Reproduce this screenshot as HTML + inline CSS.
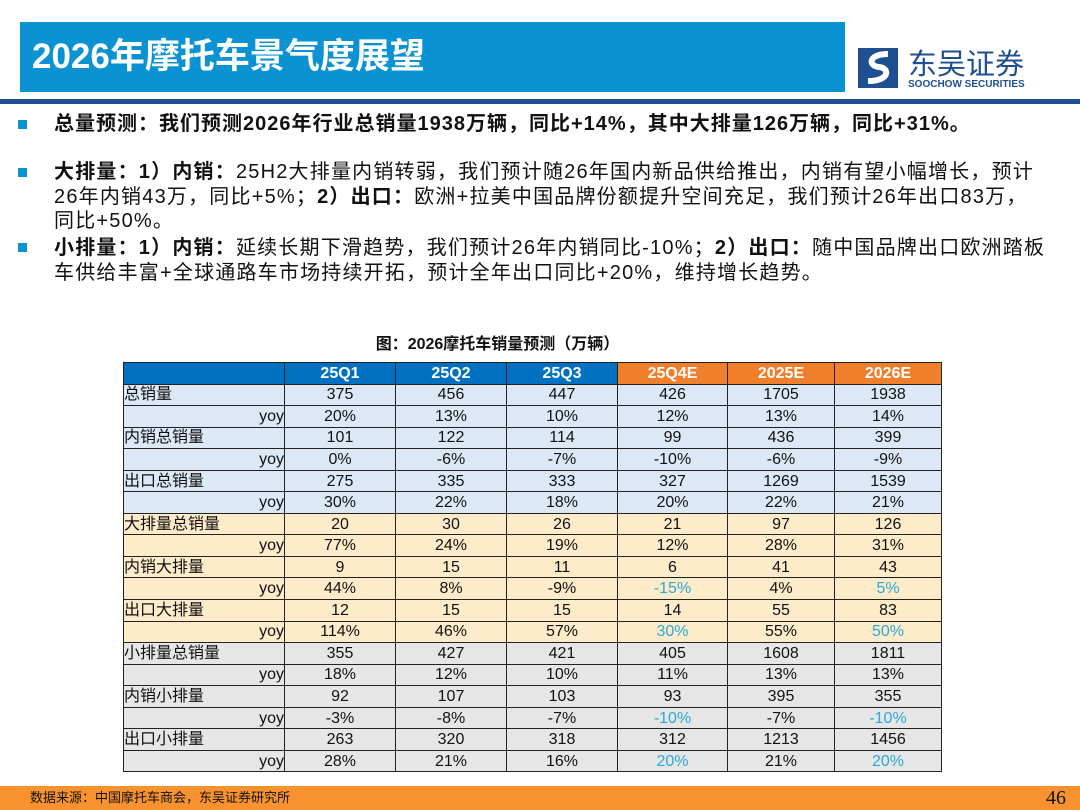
<!DOCTYPE html>
<html><head><meta charset="utf-8"><style>
*{margin:0;padding:0;box-sizing:border-box}
body{width:1080px;height:810px;background:#fff;position:relative;overflow:hidden;font-family:"Liberation Sans","Noto Sans CJK SC",sans-serif;color:#111}
.title{position:absolute;left:20px;top:22px;width:825px;height:70px;background:#0a92d2;color:#fff;font-size:35px;font-weight:bold;line-height:70px;padding-left:12px}
.rule{position:absolute;left:0;top:99px;width:1080px;height:5px;background:#1d4f91}
.logo{position:absolute;left:858px;top:42px}
.bul{position:absolute;left:18px;width:9px;height:9px;background:#0a92d2}
.para{position:absolute;left:54px;font-size:20px;letter-spacing:1.2px;line-height:24.5px;width:1020px;white-space:nowrap}
.cap{position:absolute;left:0;width:995px;top:330px;text-align:center;font-size:16px;font-weight:bold}
table{position:absolute;left:123px;top:362px;border-collapse:collapse;font-size:16px}
td,th{border:1.5px solid #222;height:21.55px;text-align:center;padding:0;line-height:19px}
th{color:#fff;font-weight:bold;font-size:16px}
td.l{text-align:left}td.y{text-align:right}
.cy{color:#2ba8d8}
.foot{position:absolute;left:0;top:786px;width:1080px;height:24px;background:#f7922e;font-size:13px;line-height:24px;padding-left:30px}
.pg{position:absolute;right:14px;top:0;font-size:20px;font-family:"Liberation Serif",serif}
</style></head><body>
<div class="title">2026年摩托车景气度展望</div>
<div class="rule"></div>
<div class="logo">
<svg width="200" height="48"><rect x="0" y="6" width="40" height="40" fill="#1d4f91"/><path d="M30 12 C10 12 10 24 21 25 C32 26 32 39 10 39" stroke="#fff" stroke-width="6" fill="none"/>
<text x="50" y="32" font-size="29" fill="#1d4f91" font-family="Noto Sans CJK SC,sans-serif">东吴证券</text>
<text x="50" y="45" font-size="10" font-weight="bold" fill="#1d4f91" font-family="Liberation Sans,sans-serif">SOOCHOW SECURITIES</text></svg></div>
<div class="bul" style="top:120px"></div>
<div class="para" style="top:112px;font-weight:bold;letter-spacing:1px">总量预测：我们预测2026年行业总销量1938万辆，同比+14%，其中大排量126万辆，同比+31%。</div>
<div class="bul" style="top:168px"></div>
<div class="para" style="top:160px"><b>大排量：1）内销：</b>25H2大排量内销转弱，我们预计随26年国内新品供给推出，内销有望小幅增长，预计<br>26年内销43万，同比+5%；<b>2）出口：</b>欧洲+拉美中国品牌份额提升空间充足，我们预计26年出口83万，<br>同比+50%。</div>
<div class="bul" style="top:243px"></div>
<div class="para" style="top:236px"><b>小排量：1）内销：</b>延续长期下滑趋势，我们预计26年内销同比-10%；<b>2）出口：</b>随中国品牌出口欧洲踏板<br>车供给丰富+全球通路车市场持续开拓，预计全年出口同比+20%，维持增长趋势。</div>
<div class="cap">图：2026摩托车销量预测（万辆）</div>
<table id="t"></table>
<div class="foot">数据来源：中国摩托车商会，东吴证券研究所<span class="pg">46</span></div>
<script>
const periods=["25Q1","25Q2","25Q3","25Q4E","2025E","2026E"];
const rowLabels=["总销量","yoy","内销总销量","yoy","出口总销量","yoy","大排量总销量","yoy","内销大排量","yoy","出口大排量","yoy","小排量总销量","yoy","内销小排量","yoy","出口小排量","yoy"];
const values=[
["375","456","447","426","1705","1938"],["20%","13%","10%","12%","13%","14%"],
["101","122","114","99","436","399"],["0%","-6%","-7%","-10%","-6%","-9%"],
["275","335","333","327","1269","1539"],["30%","22%","18%","20%","22%","21%"],
["20","30","26","21","97","126"],["77%","24%","19%","12%","28%","31%"],
["9","15","11","6","41","43"],["44%","8%","-9%","-15%","4%","5%"],
["12","15","15","14","55","83"],["114%","46%","57%","30%","55%","50%"],
["355","427","421","405","1608","1811"],["18%","12%","10%","11%","13%","13%"],
["92","107","103","93","395","355"],["-3%","-8%","-7%","-10%","-7%","-10%"],
["263","320","318","312","1213","1456"],["28%","21%","16%","20%","21%","20%"]];
const highlighted=[[9,3],[9,5],[11,3],[11,5],[15,3],[15,5],[17,3],[17,5]];
const widths=[161,111,111,111,110,107,107];
const t=document.getElementById('t');
let h='<tr><th style="width:161px;background:#0070c0"></th>';
periods.forEach((p,i)=>{h+='<th style="width:'+widths[i+1]+'px;background:'+(i<3?'#0070c0':'#f07f2c')+'">'+p+'</th>';});
t.innerHTML=h+'</tr>';
rowLabels.forEach((lab,r)=>{
 const tr=document.createElement('tr');
 
 
 tr.style.background=r<6?'#dce8f5':(r<12?'#fdebc9':'#e6e6e6');
 let s='<td class="'+(lab==='yoy'?'y':'l')+'">'+lab+'</td>';
 values[r].forEach((v,c)=>{const hl=highlighted.some(a=>a[0]===r&&a[1]===c);s+='<td'+(hl?' class="cy"':'')+'>'+v+'</td>';});
 tr.innerHTML=s;t.appendChild(tr);
});
</script>
</body></html>
